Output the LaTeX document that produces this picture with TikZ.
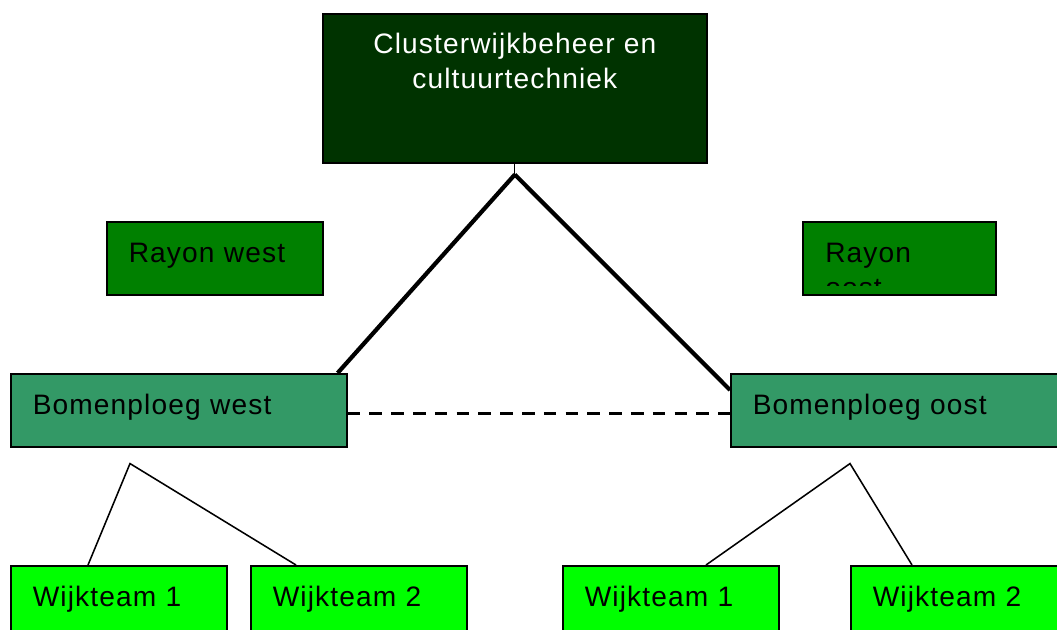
\documentclass[tikz,border=0pt]{standalone}
\usepackage{fontspec}
\setmainfont[LetterSpace=4]{Liberation Sans}
\usepackage{tikz}
\usetikzlibrary{calc}
\definecolor{clustergreen}{RGB}{0,51,0}
\definecolor{rayongreen}{RGB}{0,128,0}
\definecolor{bomengreen}{RGB}{51,153,102}
\definecolor{wijkgreen}{RGB}{0,255,0}
\tikzset{
box/.style={%
    rectangle,
    anchor=north west,
    draw=black,
    line width=1.1pt,
    inner xsep=0.55cm,
    inner ysep=0pt,
    align=left,
    minimum height=1.825cm,
    text height=15pt,
    text depth=9pt,
    text=black,
    font=\fontsize{20}{24}\selectfont
},
label text/.style={anchor=north west, align=left, inner sep=0pt, text=black,
    font=\fontsize{20}{25}\selectfont},
cluster/.style={box, fill=clustergreen, minimum width=9.6cm, minimum height=3.725cm},
rayon/.style={box, fill=rayongreen},
bomen/.style={box, fill=bomengreen},
wijk/.style={box, fill=wijkgreen, minimum height=1.8cm, text width=4.3cm},
trunk/.style={line width=3pt},
twig/.style={line width=1.1pt},
}

\begin{document}
\begin{tikzpicture}[x=0.025cm, y=-0.025cm]
    \useasboundingbox (0,0) rectangle (1057,630);
    \clip (0,0) rectangle (1057,630);

    \node[cluster] at (322,13) (top) {};
    \node[label text, anchor=north, align=center, text=white] at ($(top.north)+(0,19.5)$) (toplbl)
          {Clusterwijkbeheer en\\cultuurtechniek};

    \node[rayon, text width=4.3cm] at (106,221) (rw) {Rayon west};
    \node[rayon, text width=3.725cm] at (802,221) (ro) {};
    % text does not fit, second line is cut off inside the box
    \begin{scope}
        \clip (ro.north west) rectangle ($(ro.south east)+(0,-10)$);
        \node[label text] at ($(ro.north west)+(23,22)$) (rolbl) {Rayon\\oost};
    \end{scope}

    \node[bomen, text width=7.3cm] at (10,373) (bw) {Bomenploeg west};
    \node[bomen, text width=7.65cm] at (730,373) (bo) {Bomenploeg oost};

    \node[wijk] at (10,565) (ww1) {Wijkteam 1};
    \node[wijk] at (250,565) (ww2) {Wijkteam 2};
    \node[wijk] at (562,565) (ow1) {Wijkteam 1};
    \node[wijk] at (850,565) (ow2) {Wijkteam 2};

    \coordinate (apex) at ($(top.south)+(0,11)$);
    \coordinate (forkw) at ($(bw.south west)+(120,16)$);
    \coordinate (forko) at ($(bo.south west)+(120,16)$);

    \draw[line width=0.8pt] (top.south) -- (apex);
    \draw[trunk] (apex) -- ($(bw.north east)+(-10,0)$);
    \draw[trunk] (apex) -- ($(bo.north west)+(0,17)$);
    \draw[line width=2.3pt, dash pattern=on 9pt off 6.5pt] ($(bw.east)+(0,3)$) -- ($(bo.west)+(0,3)$);

    \draw[twig] ($(ww1.north west)+(78,0)$) -- (forkw) -- ($(ww2.north west)+(46,0)$);
    \draw[twig] ($(ow1.north west)+(144,0)$) -- (forko) -- ($(ow2.north west)+(62,0)$);
\end{tikzpicture}
\end{document}
